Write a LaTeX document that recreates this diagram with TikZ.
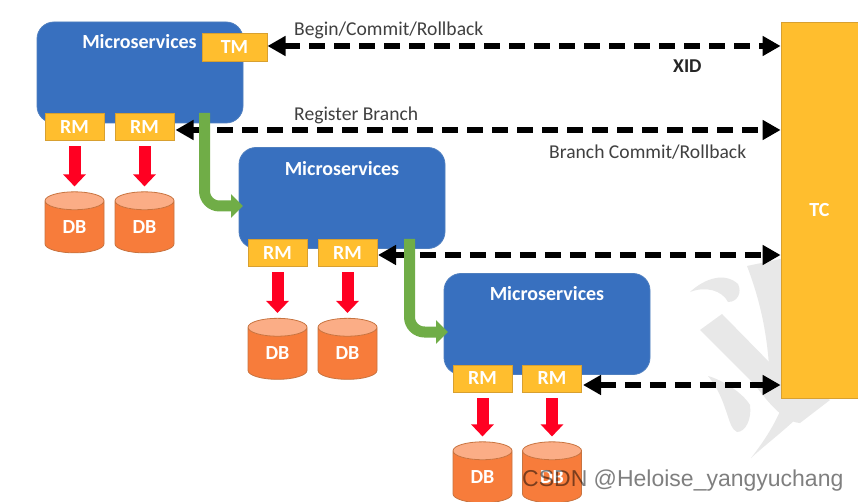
\documentclass[tikz,border=0pt]{standalone}
\usepackage{fontspec}
\setmainfont{Carlito}
\newfontfamily\wmfont{Liberation Sans}
\usetikzlibrary{arrows.meta,shapes.geometric}
\definecolor{msblue}{HTML}{3870BF}
\definecolor{msedge}{HTML}{4F7FBF}
\definecolor{amber}{HTML}{FFBE2E}
\definecolor{amberedge}{HTML}{D8A030}
\definecolor{dbbody}{HTML}{F77C3B}
\definecolor{dbtop}{HTML}{FBAD86}
\definecolor{dbedge}{HTML}{C8733F}
\definecolor{leaf}{HTML}{70AD47}
\definecolor{alarm}{HTML}{FF0022}
\definecolor{inkgray}{HTML}{404040}
\definecolor{wmgray}{HTML}{E8E8E8}
\tikzset{
  x=1pt,y=-1pt,
  msbox/.style={draw=msedge,line width=.8pt,fill=msblue,rounded corners=17pt,minimum width=206pt,minimum height=101pt,inner sep=0pt},
  mstitle/.style={text=white,font=\fontsize{20}{22}\selectfont\bfseries,inner sep=0pt},
  tagbox/.style={draw=amberedge,line width=.8pt,fill=amber,minimum width=59pt,minimum height=27pt,inner sep=0pt,text=white,font=\fontsize{20}{22}\selectfont\bfseries},
  dbcyl/.style={cylinder,shape border rotate=90,aspect=.75,draw=dbedge,line width=.8pt,cylinder uses custom fill,cylinder body fill=dbbody,cylinder end fill=dbtop,minimum width=59pt,minimum height=61pt,inner sep=0pt,text=white,font=\fontsize{20}{22}\selectfont\bfseries},
  dashlink/.style={line width=5.4pt,dash pattern=on 16pt off 9pt,{Triangle[length=18pt,width=19pt]}-{Triangle[length=18pt,width=19pt]}},
  branchflow/.style={draw=leaf,line width=11pt,rounded corners=15pt,-{Triangle[length=12pt,width=23pt]}},
  dbflow/.style={draw=alarm,line width=12pt,-{Triangle[length=12pt,width=22pt]},shorten <=5pt,shorten >=5pt},
  caption/.style={text=inkgray,font=\fontsize{19.6}{22}\selectfont,inner sep=0pt},
}
\begin{document}
\begin{tikzpicture}
\useasboundingbox (0,0) rectangle (858,502);
\fill[white] (0,0) rectangle (858,502);
% faint background calligraphy
\fill[wmgray] (690,292) .. controls (705,278) and (725,272) .. (738,284) .. controls (742,292) and (738,302) .. (728,302) .. controls (722,290) and (705,286) .. (690,292) -- cycle;
\fill[wmgray] (700,330) -- (722,314) -- (775,368) -- (830,400) -- (800,423) .. controls (785,422) and (770,405) .. (755,385) -- cycle;
\fill[wmgray] (747,266) -- (785,258) -- (785,395) -- (770,395) .. controls (770,340) and (760,300) .. (747,266) -- cycle;
\fill[wmgray] (708,376) .. controls (722,380) and (742,392) .. (750,405) .. controls (752,420) and (745,432) .. (737,432) .. controls (727,428) and (728,400) .. (708,376) -- cycle;
\fill[wmgray] (751,458) .. controls (765,440) and (778,420) .. (785,398) -- (800,415) .. controls (785,430) and (765,445) .. (751,458) -- cycle;
% boxes
\node[msbox] (ms1) at (140,72.5) {};
\node[msbox] (ms2) at (342,198) {};
\node[msbox] (ms3) at (547,324) {};
\node[mstitle] (t1) at (139.5,42) {Microservices};
\node[mstitle] (t2) at (342,169) {Microservices};
\node[mstitle] (t3) at (547,294) {Microservices};
\node[tagbox,minimum width=65pt,minimum height=28pt] (tm) at (234.5,47) {TM};
\node[draw=amberedge,line width=.8pt,fill=amber,minimum width=77pt,minimum height=376pt,inner sep=0pt,text=white,font=\fontsize{20}{22}\selectfont\bfseries] (tc) at (819.5,210) {TC};
\node[tagbox] (rma) at (74.5,127) {RM};
\node[tagbox] (rmb) at (144.5,127) {RM};
\node[tagbox] (rmc) at (277.5,253) {RM};
\node[tagbox] (rmd) at (347.5,253) {RM};
\node[tagbox] (rme) at (482.5,378.5) {RM};
\node[tagbox] (rmf) at (552,378.5) {RM};
\node[dbcyl] (dba) at (74.5,227) {DB};
\node[dbcyl] (dbb) at (144.5,227) {DB};
\node[dbcyl] (dbc) at (277.5,353.5) {DB};
\node[dbcyl] (dbd) at (347.5,353.5) {DB};
\node[dbcyl] (dbe) at (482.5,477) {DB};
\node[dbcyl] (dbf) at (552,477) {DB};
% dashed links
\coordinate (la) at (267.5,46);
\coordinate (lb) at (175.5,130);
\coordinate (lc) at (378,255);
\coordinate (ld) at (583,385);
\draw[dashlink] (la) -- (la -| tc.west);
\draw[dashlink] (lb) -- (lb -| tc.west);
\draw[dashlink] (lc) -- (lc -| tc.west);
\draw[dashlink] (ld) -- (ld -| tc.west);
% branch flows
\coordinate (ga) at (204.5,113);
\coordinate (gb) at (243,206);
\coordinate (gc) at (409.5,239);
\coordinate (gd) at (448,332);
\draw[branchflow] (ga) |- (gb);
\draw[branchflow] (gc) |- (gd);
% DB flows
\draw[dbflow] (rma) ++(0,14.5) coordinate (ra) (ra) -- (ra |- dba.north);
\draw[dbflow] (rmb) ++(0,14.5) coordinate (rb) (rb) -- (rb |- dbb.north);
\draw[dbflow] (rmc) ++(0,14.5) coordinate (rc) (rc) -- (rc |- dbc.north);
\draw[dbflow] (rmd) ++(0,14.5) coordinate (rd) (rd) -- (rd |- dbd.north);
\draw[dbflow] (rme) ++(0,14.5) coordinate (re) (re) -- (re |- dbe.north);
\draw[dbflow] (rmf) ++(0,14.5) coordinate (rf) (rf) -- (rf |- dbf.north);
% captions
\node[caption,anchor=west] (c1) at (294,30) {Begin/Commit/Rollback};
\node[caption,anchor=west] (c2) at (294,115) {Register Branch};
\node[caption,anchor=west] (c3) at (549,152) {Branch Commit/Rollback};
\node[caption,anchor=west,text=black!85,font=\fontsize{19.6}{22}\selectfont\bfseries] (c4) at (673,66) {XID};
% site watermark
\node[anchor=west,inner sep=0pt,text=black,opacity=.5,font=\wmfont\fontsize{23}{26}\selectfont] (wm) at (522,481) {CSDN @Heloise\_yangyuchang};
\end{tikzpicture}
\end{document}
